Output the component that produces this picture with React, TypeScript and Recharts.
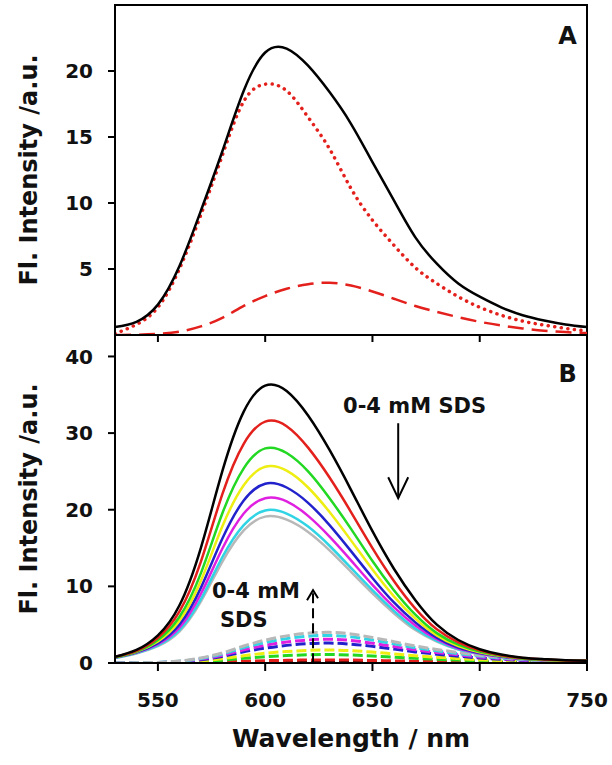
import { LineChart, Line, XAxis, YAxis, ReferenceArea, ReferenceDot } from "recharts";

const FONT = "'DejaVu Sans', 'Liberation Sans', sans-serif";

// wavelength grid (nm)
const wavelengths = [530, 540, 550, 560, 570, 580, 590, 600, 610, 620, 630, 640, 650, 660, 670, 680, 690, 700, 710, 720, 730, 740, 750];
const xTicks = [550, 600, 650, 700, 750];

// panel A
const aBlack = [0.6, 1.0, 2.3, 5.2, 9.4, 13.9, 18.5, 21.4, 21.7, 20.4, 18.4, 16.0, 13.1, 10.2, 7.4, 5.4, 3.9, 2.9, 2.1, 1.5, 1.1, 0.8, 0.6];
const aDotted = [0.1, 0.8, 2.1, 5.0, 9.1, 13.6, 17.7, 19.0, 18.5, 16.5, 14.1, 11.1, 8.7, 6.8, 5.1, 3.9, 2.9, 2.1, 1.5, 1.05, 0.75, 0.5, 0.3];
const aDashed = [0, 0.02, 0.08, 0.25, 0.65, 1.3, 2.2, 2.95, 3.5, 3.85, 3.96, 3.75, 3.3, 2.75, 2.2, 1.75, 1.35, 1.0, 0.72, 0.5, 0.33, 0.22, 0.15];
const aTicks = [5, 10, 15, 20];

// panel B, solid curves (0-4 mM SDS)
const bBlack = [0.8, 1.7, 3.6, 7.5, 15, 25, 32.8, 36.2, 35.5, 32.3, 27.8, 22.6, 17.2, 12.3, 8.2, 5.0, 3.0, 1.8, 1.1, 0.7, 0.5, 0.35, 0.3];
const bRed = [0.8, 1.6, 3.3, 6.7, 13.2, 22, 28.6, 31.5, 30.9, 28.1, 24.2, 19.7, 15.0, 10.7, 7.1, 4.4, 2.7, 1.65, 1.0, 0.65, 0.45, 0.33, 0.3];
const bGreen = [0.75, 1.5, 3.0, 6.0, 11.7, 19.5, 25.4, 28.0, 27.4, 25.0, 21.5, 17.5, 13.3, 9.5, 6.3, 3.9, 2.4, 1.5, 0.95, 0.6, 0.42, 0.32, 0.28];
const bYellow = [0.75, 1.45, 2.8, 5.5, 10.7, 17.8, 23.2, 25.6, 25.1, 22.9, 19.7, 16.0, 12.2, 8.7, 5.8, 3.6, 2.2, 1.4, 0.9, 0.58, 0.4, 0.3, 0.27];
const bBlue = [0.7, 1.4, 2.6, 5.0, 9.8, 16.2, 21.2, 23.4, 22.9, 20.9, 18.0, 14.6, 11.1, 7.9, 5.3, 3.3, 2.0, 1.3, 0.85, 0.55, 0.38, 0.3, 0.26];
const bMagenta = [0.7, 1.35, 2.45, 4.6, 9.0, 14.9, 19.5, 21.5, 21.1, 19.2, 16.5, 13.4, 10.2, 7.3, 4.9, 3.1, 1.9, 1.25, 0.8, 0.52, 0.36, 0.28, 0.25];
const bCyan = [0.65, 1.3, 2.3, 4.3, 8.3, 13.8, 18.0, 19.9, 19.5, 17.8, 15.3, 12.4, 9.5, 6.8, 4.5, 2.9, 1.8, 1.2, 0.78, 0.5, 0.35, 0.27, 0.25];
const bGray = [0.65, 1.25, 2.2, 4.1, 8.0, 13.2, 17.3, 19.1, 18.7, 17.1, 14.7, 11.9, 9.1, 6.5, 4.3, 2.8, 1.75, 1.15, 0.75, 0.5, 0.35, 0.27, 0.25];

// panel B, dashed curves
const dBlack = [0, 0, 0, 0.01, 0.02, 0.03, 0.04, 0.05, 0.05, 0.05, 0.05, 0.05, 0.05, 0.04, 0.03, 0.03, 0.02, 0.02, 0.01, 0.01, 0.01, 0, 0];
const dRed = [0, 0, 0.01, 0.03, 0.07, 0.13, 0.22, 0.3, 0.35, 0.39, 0.4, 0.38, 0.33, 0.28, 0.22, 0.18, 0.14, 0.1, 0.07, 0.05, 0.03, 0.02, 0.02];
const dGreen = [0, 0.01, 0.02, 0.07, 0.18, 0.36, 0.61, 0.82, 0.97, 1.07, 1.1, 1.04, 0.92, 0.76, 0.61, 0.49, 0.38, 0.28, 0.2, 0.14, 0.09, 0.06, 0.04];
const dYellow = [0, 0.01, 0.03, 0.11, 0.28, 0.56, 0.95, 1.27, 1.5, 1.65, 1.7, 1.61, 1.42, 1.18, 0.95, 0.75, 0.58, 0.43, 0.31, 0.21, 0.14, 0.09, 0.06];
const dBlue = [0, 0.01, 0.05, 0.16, 0.43, 0.85, 1.45, 1.94, 2.3, 2.53, 2.6, 2.46, 2.17, 1.81, 1.45, 1.15, 0.89, 0.66, 0.47, 0.33, 0.22, 0.14, 0.1];
const dMagenta = [0, 0.02, 0.06, 0.2, 0.51, 1.02, 1.72, 2.31, 2.74, 3.01, 3.1, 2.94, 2.58, 2.15, 1.72, 1.37, 1.06, 0.78, 0.56, 0.39, 0.26, 0.17, 0.12];
const dCyan = [0, 0.02, 0.07, 0.23, 0.59, 1.18, 2.0, 2.68, 3.18, 3.5, 3.6, 3.41, 3.0, 2.5, 2.0, 1.59, 1.23, 0.91, 0.65, 0.45, 0.3, 0.2, 0.14];
const dGray = [0, 0.02, 0.08, 0.25, 0.66, 1.31, 2.22, 2.98, 3.54, 3.89, 4.0, 3.79, 3.33, 2.78, 2.22, 1.77, 1.36, 1.01, 0.73, 0.5, 0.33, 0.22, 0.15];
const bTicks = [0, 10, 20, 30, 40];

const colors = ["#000000", "#e3201c", "#22d822", "#eeee12", "#2222cc", "#e020e0", "#30d4e4", "#b8b8b8"];
const solidSets = [bBlack, bRed, bGreen, bYellow, bBlue, bMagenta, bCyan, bGray];
const dashedSets = [dBlack, dRed, dGreen, dYellow, dBlue, dMagenta, dCyan, dGray];

const dataA = wavelengths.map((w, i) => ({ w, total: aBlack[i], dotted: aDotted[i], dashed: aDashed[i] }));
const dataB = wavelengths.map((w, i) => {
  const row: Record<string, number> = { w };
  solidSets.forEach((s, k) => (row["s" + k] = s[i]));
  dashedSets.forEach((s, k) => (row["d" + k] = s[i]));
  return row;
});

const tickStyle = { fontSize: 20, fontWeight: "bold", fill: "#111", fontFamily: FONT };
const blackLine = { stroke: "#000", strokeWidth: 2 };

const YTitle = (props: any) => {
  const vb = props.viewBox || { y: 0, height: 0 };
  const x = 37;
  const y = vb.y + vb.height / 2;
  return (
    <text x={x} y={y} transform={`rotate(-90 ${x} ${y})`} textAnchor="middle" fontFamily={FONT} fontWeight="bold" fontSize={24} fill="#111">
      Fl. Intensity /a.u.
    </text>
  );
};

const XTitle = (props: any) => {
  const vb = props.viewBox || { x: 0, y: 0, width: 0 };
  return (
    <text x={vb.x + vb.width / 2} y={vb.y + 84} textAnchor="middle" fontFamily={FONT} fontWeight="bold" fontSize={25} fill="#111">
      Wavelength / nm
    </text>
  );
};

const note = (text: string, size: number, anchor: string = "start") => (p: any) => (
  <text x={p.cx} y={p.cy} textAnchor={anchor} fontFamily={FONT} fontWeight="bold" fontSize={size} fill="#111">
    {text}
  </text>
);

const DownArrow = (p: any) => (
  <g stroke="#000" strokeWidth={2} fill="none">
    <line x1={p.cx} y1={p.cy - 75} x2={p.cx} y2={p.cy} />
    <polyline points={`${p.cx - 10},${p.cy - 21} ${p.cx},${p.cy} ${p.cx + 10},${p.cy - 21}`} />
  </g>
);

const UpArrow = (p: any) => (
  <g stroke="#000" strokeWidth={2} fill="none">
    <line x1={p.cx} y1={p.cy + 73} x2={p.cx} y2={p.cy} strokeDasharray="10 5" />
    <polyline points={`${p.cx - 6},${p.cy + 10} ${p.cx},${p.cy} ${p.cx + 5},${p.cy + 8}`} />
  </g>
);

export default function App() {
  return (
    <div style={{ position: "absolute", left: 0, top: 0, width: 612, height: 765, background: "#fff" }}>
      <div style={{ position: "absolute", left: 0, top: 335 }}>
        <LineChart width={612} height={430} data={dataB} margin={{ top: 0, right: 25, bottom: 0, left: 0 }}>
          <XAxis
            type="number"
            dataKey="w"
            domain={[530, 750]}
            ticks={xTicks}
            allowDataOverflow
            height={102}
            tickSize={8}
            tickMargin={22}
            tick={tickStyle}
            axisLine={blackLine}
            tickLine={blackLine}
            label={<XTitle />}
          />
          <YAxis
            type="number"
            domain={[0, 42.8]}
            ticks={bTicks}
            allowDataOverflow
            width={115}
            tickSize={7}
            tickMargin={15}
            tick={tickStyle}
            axisLine={blackLine}
            tickLine={blackLine}
            label={<YTitle />}
          />
          {dashedSets.map((_, k) => (
            <Line
              key={"d" + k}
              dataKey={"d" + k}
              type="natural"
              stroke={colors[k]}
              strokeWidth={3}
              strokeDasharray="10 4"
              dot={false}
              isAnimationActive={false}
            />
          ))}
          {solidSets.map((_, k) => (
            <Line
              key={"s" + (7 - k)}
              dataKey={"s" + (7 - k)}
              type="natural"
              stroke={colors[7 - k]}
              strokeWidth={2.5}
              dot={false}
              isAnimationActive={false}
            />
          ))}
          <ReferenceArea x1={530} x2={750} y1={0} y2={42.8} fill="none" stroke="#000" strokeWidth={2} />
          <ReferenceDot x={745.3} y={36.7} r={1} shape={note("B", 24, "end")} />
          <ReferenceDot x={636.3} y={32.6} r={1} shape={note("0-4 mM SDS", 21)} />
          <ReferenceDot x={662} y={21.5} r={1} shape={DownArrow} />
          <ReferenceDot x={575.2} y={8.45} r={1} shape={note("0-4 mM", 21)} />
          <ReferenceDot x={578.9} y={4.67} r={1} shape={note("SDS", 21)} />
          <ReferenceDot x={622.3} y={9.5} r={1} shape={UpArrow} />
        </LineChart>
      </div>
      <div style={{ position: "absolute", left: 0, top: 0 }}>
        <LineChart width={612} height={345} data={dataA} margin={{ top: 5, right: 25, bottom: 0, left: 0 }}>
          <XAxis
            type="number"
            dataKey="w"
            domain={[530, 750]}
            ticks={xTicks}
            allowDataOverflow
            height={10}
            tickSize={7}
            tickFormatter={() => ""}
            axisLine={blackLine}
            tickLine={blackLine}
          />
          <YAxis
            type="number"
            domain={[0, 25]}
            ticks={aTicks}
            allowDataOverflow
            width={115}
            tickSize={7}
            tickMargin={15}
            tick={tickStyle}
            axisLine={blackLine}
            tickLine={blackLine}
            label={<YTitle />}
          />
          <Line dataKey="dashed" type="natural" stroke="#e3201c" strokeWidth={2.5} strokeDasharray="16 8" dot={false} isAnimationActive={false} />
          <Line dataKey="dotted" type="natural" stroke="#e3201c" strokeWidth={3.5} strokeDasharray="0.1 6.5" strokeLinecap="round" dot={false} isAnimationActive={false} />
          <Line dataKey="total" type="natural" stroke="#000" strokeWidth={2.5} dot={false} isAnimationActive={false} />
          <ReferenceArea x1={530} x2={750} y1={0} y2={25} fill="none" stroke="#000" strokeWidth={2} />
          <ReferenceDot x={745.3} y={22.05} r={1} shape={note("A", 24, "end")} />
        </LineChart>
      </div>
    </div>
  );
}
